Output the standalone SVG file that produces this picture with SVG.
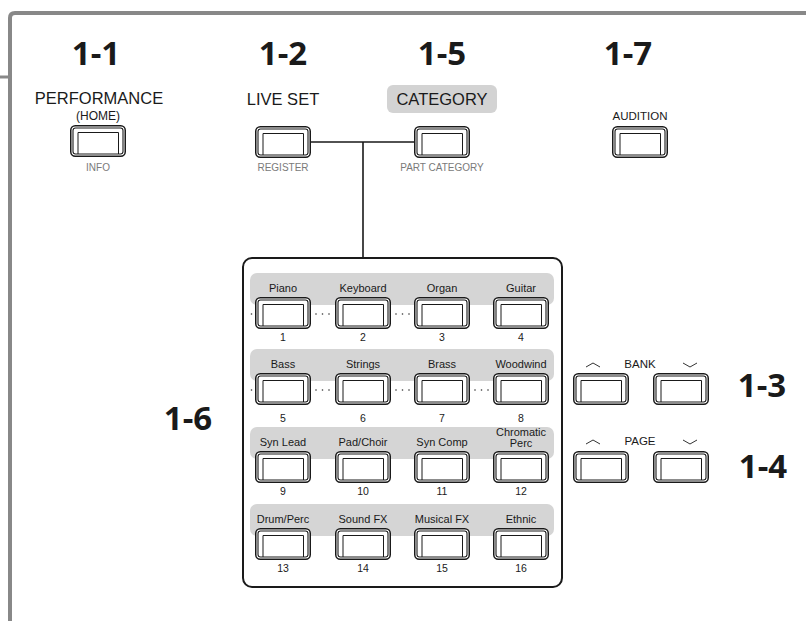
<svg xmlns="http://www.w3.org/2000/svg" xmlns:xlink="http://www.w3.org/1999/xlink" width="806" height="621" viewBox="0 0 806 621">
<style>
.hd{font-family:"Open Sans","DejaVu Sans",sans-serif;font-weight:700;font-size:33px;fill:#1a1a1a;text-anchor:middle}
.lb{font-family:"Liberation Sans",Arial,sans-serif;font-size:16.5px;fill:#1a1a1a;text-anchor:middle}
.sm{font-family:"Liberation Sans",Arial,sans-serif;font-size:11px;fill:#1a1a1a;text-anchor:middle}
.gy{font-family:"Liberation Sans",Arial,sans-serif;font-size:10px;fill:#7a7a7a;text-anchor:middle}
.num{font-family:"Liberation Sans",Arial,sans-serif;font-size:10.5px;fill:#1a1a1a;text-anchor:middle}
.band{fill:#d5d5d5}
.dot{fill:#333}
.chev{fill:none;stroke:#333;stroke-width:1}
.conn{fill:none;stroke:#1a1a1a;stroke-width:1.6}
</style>
<defs>
<g id="btn">
<rect x="0.75" y="0.75" width="54.5" height="30.5" rx="4.5" fill="#fff" stroke="#1a1a1a" stroke-width="1.5"/>
<rect x="3" y="3" width="50" height="26" rx="2.5" fill="none" stroke="#1a1a1a" stroke-width="1.1"/>
<path d="M8 29 V7.5 H48.5 V29" fill="none" stroke="#1a1a1a" stroke-width="1"/>
</g>
</defs>
<rect width="806" height="621" fill="#fff"/>
<g id="frame">
<path d="M10 621 V18 Q10 13 15 13 H806" fill="none" stroke="#888" stroke-width="4"/>
<path d="M0 77 H10" fill="none" stroke="#888" stroke-width="3"/>
</g>
<g id="headings">
<text class="hd" x="96" y="65">1-1</text>
<text class="hd" x="283" y="65">1-2</text>
<text class="hd" x="442" y="65">1-5</text>
<text class="hd" x="628" y="65">1-7</text>
<text class="hd" x="188" y="430">1-6</text>
<text class="hd" x="762" y="397">1-3</text>
<text class="hd" x="763" y="478">1-4</text>
</g>
<g id="connectors">
<path class="conn" d="M311 142 H414 M363 142 V258"/>
</g>
<g id="performance">
<text class="lb" x="99" y="104">PERFORMANCE</text>
<text class="sm" x="98" y="120" style="font-size:12px">(HOME)</text>
<use xlink:href="#btn" x="70" y="125"/>
<text class="gy" x="98" y="171">INFO</text>
</g>
<g id="liveset">
<text class="lb" x="283" y="105">LIVE SET</text>
<use xlink:href="#btn" x="255" y="126"/>
<text class="gy" x="283" y="171">REGISTER</text>
</g>
<g id="category">
<rect x="387" y="85" width="110" height="28" rx="6" fill="#d3d3d3"/>
<text class="lb" x="442" y="105">CATEGORY</text>
<use xlink:href="#btn" x="414" y="126"/>
<text class="gy" x="442" y="171">PART CATEGORY</text>
</g>
<g id="audition">
<text class="sm" x="640" y="120" style="font-size:11.5px">AUDITION</text>
<use xlink:href="#btn" x="612" y="126"/>
</g>
<g id="panel">
<rect x="243" y="258" width="319" height="329" rx="9" fill="#fff" stroke="#1a1a1a" stroke-width="2"/>
<rect class="band" x="250" y="273" width="304" height="32" rx="7"/>
<rect class="band" x="250" y="349" width="304" height="32" rx="7"/>
<rect class="band" x="250" y="427" width="304" height="32" rx="7"/>
<rect class="band" x="250" y="504" width="304" height="32" rx="7"/>
<g id="dots">
<circle class="dot" cx="251.5" cy="314" r="0.8"/>
<circle class="dot" cx="316" cy="314" r="0.8"/><circle class="dot" cx="322.5" cy="314" r="0.8"/><circle class="dot" cx="329" cy="314" r="0.8"/>
<circle class="dot" cx="396" cy="314" r="0.8"/><circle class="dot" cx="402.5" cy="314" r="0.8"/><circle class="dot" cx="409" cy="314" r="0.8"/>
<circle class="dot" cx="251.5" cy="390" r="0.8"/>
<circle class="dot" cx="316" cy="390" r="0.8"/><circle class="dot" cx="322.5" cy="390" r="0.8"/><circle class="dot" cx="329" cy="390" r="0.8"/>
<circle class="dot" cx="396" cy="390" r="0.8"/><circle class="dot" cx="402.5" cy="390" r="0.8"/><circle class="dot" cx="409" cy="390" r="0.8"/>
<circle class="dot" cx="475" cy="390" r="0.8"/><circle class="dot" cx="481.5" cy="390" r="0.8"/><circle class="dot" cx="488" cy="390" r="0.8"/>
</g>
</g>
<g id="cat1"><text class="sm" x="283" y="292">Piano</text><use xlink:href="#btn" x="255" y="297"/><text class="num" x="283" y="341">1</text></g>
<g id="cat2"><text class="sm" x="363" y="292">Keyboard</text><use xlink:href="#btn" x="335" y="297"/><text class="num" x="363" y="341">2</text></g>
<g id="cat3"><text class="sm" x="442" y="292">Organ</text><use xlink:href="#btn" x="414" y="297"/><text class="num" x="442" y="341">3</text></g>
<g id="cat4"><text class="sm" x="521" y="292">Guitar</text><use xlink:href="#btn" x="493" y="297"/><text class="num" x="521" y="341">4</text></g>
<g id="cat5"><text class="sm" x="283" y="368">Bass</text><use xlink:href="#btn" x="255" y="373"/><text class="num" x="283" y="422">5</text></g>
<g id="cat6"><text class="sm" x="363" y="368">Strings</text><use xlink:href="#btn" x="335" y="373"/><text class="num" x="363" y="422">6</text></g>
<g id="cat7"><text class="sm" x="442" y="368">Brass</text><use xlink:href="#btn" x="414" y="373"/><text class="num" x="442" y="422">7</text></g>
<g id="cat8"><text class="sm" x="521" y="368">Woodwind</text><use xlink:href="#btn" x="493" y="373"/><text class="num" x="521" y="422">8</text></g>
<g id="cat9"><text class="sm" x="283" y="446">Syn Lead</text><use xlink:href="#btn" x="255" y="451"/><text class="num" x="283" y="495">9</text></g>
<g id="cat10"><text class="sm" x="363" y="446">Pad/Choir</text><use xlink:href="#btn" x="335" y="451"/><text class="num" x="363" y="495">10</text></g>
<g id="cat11"><text class="sm" x="442" y="446">Syn Comp</text><use xlink:href="#btn" x="414" y="451"/><text class="num" x="442" y="495">11</text></g>
<g id="cat12"><text class="sm" x="521" y="436">Chromatic</text><text class="sm" x="521" y="447">Perc</text><use xlink:href="#btn" x="493" y="451"/><text class="num" x="521" y="495">12</text></g>
<g id="cat13"><text class="sm" x="283" y="523">Drum/Perc</text><use xlink:href="#btn" x="255" y="528"/><text class="num" x="283" y="572">13</text></g>
<g id="cat14"><text class="sm" x="363" y="523">Sound FX</text><use xlink:href="#btn" x="335" y="528"/><text class="num" x="363" y="572">14</text></g>
<g id="cat15"><text class="sm" x="442" y="523">Musical FX</text><use xlink:href="#btn" x="414" y="528"/><text class="num" x="442" y="572">15</text></g>
<g id="cat16"><text class="sm" x="521" y="523">Ethnic</text><use xlink:href="#btn" x="493" y="528"/><text class="num" x="521" y="572">16</text></g>
<g id="bank">
<text class="sm" x="640" y="368" style="font-size:11.5px">BANK</text>
<path class="chev" d="M586 367 L593 363 L600 367"/>
<path class="chev" d="M683 363 L690 367 L697 363"/>
<use xlink:href="#btn" x="573" y="373"/>
<use xlink:href="#btn" x="653" y="373"/>
</g>
<g id="page">
<text class="sm" x="640" y="445" style="font-size:11.5px">PAGE</text>
<path class="chev" d="M586 444 L593 440 L600 444"/>
<path class="chev" d="M683 440 L690 444 L697 440"/>
<use xlink:href="#btn" x="573" y="451"/>
<use xlink:href="#btn" x="653" y="451"/>
</g>
</svg>
